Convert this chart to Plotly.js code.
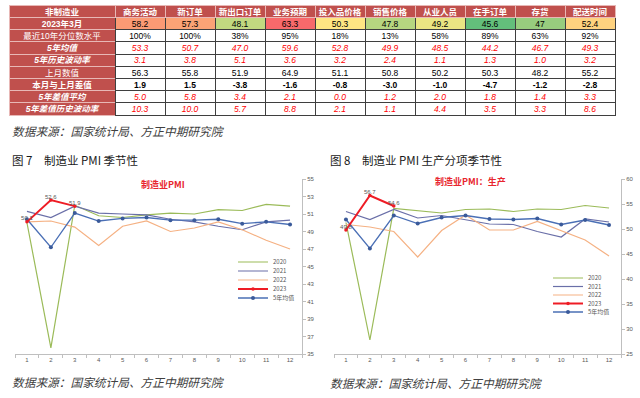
<!DOCTYPE html>
<html><head><meta charset="utf-8">
<script src="https://cdn.plot.ly/plotly-3.0.1.min.js"></script>
<style>html,body{margin:0;padding:0;background:#fff}#chart{width:640px;height:398px}</style>
</head><body><div id="chart"></div>
<script>
// ---------- table data ----------
const tableHeader = ['非制造业','商务活动','新订单','新出口订单','业务预期','投入品价格','销售价格','从业人员','在手订单','存货','配送时间'];
const rowLabels = ['2023年3月','最近10年分位数水平','5年均值','5年历史波动率','上月数值','本月与上月差值','5年差值平均','5年差值历史波动率'];
const currentValues = [58.2,57.3,48.1,63.3,50.3,47.8,49.2,45.6,47,52.4];
const percentile10y = [100,100,38,95,18,13,58,89,63,92];
const avg5y = [53.3,50.7,47.0,59.6,52.8,49.9,48.5,44.2,46.7,49.3];
const vol5y = [3.1,3.8,5.1,3.6,3.2,2.4,1.1,1.3,1.0,3.2];
const prevMonth = [56.3,55.8,51.9,64.9,51.1,50.8,50.2,50.3,48.2,55.2];
const momChange = [1.9,1.5,-3.8,-1.6,-0.8,-3.0,-1.0,-4.7,-1.2,-2.8];
const avgChange5y = [5.0,5.8,3.4,2.1,0.0,1.2,2.0,1.8,1.4,3.3];
const volChange5y = [10.3,10.0,5.7,8.8,2.1,1.1,4.4,3.5,3.3,8.6];

// ---------- chart data ----------
const months = [1,2,3,4,5,6,7,8,9,10,11,12];
const monthLabels = ['1','2','3','4','5','6','7','8','9','10','11','12'];
const pmi2020 = [50.0,35.7,52.0,50.8,50.6,50.9,51.1,51.0,51.5,51.4,52.1,51.9];
const pmi2021 = [51.3,50.6,51.9,51.1,51.0,50.9,50.4,50.1,49.6,49.2,50.1,50.3];
const pmi2022 = [50.1,50.2,49.5,47.4,49.6,50.2,49.0,49.4,50.1,49.2,48.0,47.0];
const pmi2023 = [50.1,52.6,51.9];
const pmiAvg5y = [50.4,47.2,51.1,50.2,50.5,50.6,50.3,50.3,50.4,49.9,50.1,49.8];
const prod2020 = [51.3,27.8,54.1,53.7,53.2,53.9,54.0,53.5,54.0,53.9,54.7,54.2];
const prod2021 = [53.5,51.9,53.9,52.2,52.7,51.9,51.0,50.9,49.5,48.4,52.0,51.4];
const prod2022 = [50.9,50.4,49.5,44.4,49.7,52.8,49.8,49.8,51.5,49.6,47.8,44.6];
const prod2023 = [49.8,56.7,54.6];
const prodAvg5y = [51.9,46.1,52.7,51.1,52.3,52.7,52.0,51.9,52.1,50.9,51.8,50.8];

// ---------- styles ----------
const HEAD_RED = '#C0504D';
const TXT_RED = '#FF0000';
const FONT = 'Liberation Sans, Noto Sans CJK SC, sans-serif';
const CJK = 'Noto Sans CJK SC, sans-serif';
const colors = {'2020':'#9BBB59','2021':'#6A6FA8','2022':'#F5B183','2023':'#EE1C25','5年均值':'#4A6FB5'};
const axisGray = '#BFBFBF';
const tickGray = '#595959';

// Excel 3-colour scale (green - yellow - red)
function scaleColor(v, arr){
  const s = arr.slice().sort((a,b)=>a-b);
  const min = s[0], max = s[s.length-1];
  const mid = (s[s.length/2-1] + s[s.length/2]) / 2;
  const G=[99,190,123], Y=[255,235,132], R=[248,105,107];
  let a=Y,b,t;
  if (v >= mid){ b=R; t=(v-mid)/(max-mid); } else { b=G; t=(mid-v)/(mid-min); }
  const c = a.map((x,i)=>Math.round(x+(b[i]-x)*t));
  return 'rgb('+c.join(',')+')';
}

const rowsText = [
  currentValues.map(v=>String(v)),
  percentile10y.map(v=>v+'%'),
  avg5y.map(v=>v.toFixed(1)),
  vol5y.map(v=>v.toFixed(1)),
  prevMonth.map(v=>v.toFixed(1)),
  momChange.map(v=>v.toFixed(1)),
  avgChange5y.map(v=>v.toFixed(1)),
  volChange5y.map(v=>v.toFixed(1))
];
const labelWeight = ['bold','normal','bold','bold','normal','bold','bold','bold'];
const labelStyle  = ['normal','normal','italic','italic','normal','normal','italic','italic'];
const dataWeight  = ['normal','normal','normal','normal','normal','bold','normal','normal'];
const dataStyle   = ['normal','normal','italic','italic','normal','normal','italic','italic'];
const redRows = [false,false,true,true,false,false,true,true];

const cellValues = [rowLabels];
const cellFill = [rowLabels.map(()=>HEAD_RED)];
const cellFont = [rowLabels.map(()=>'#FFFFFF')];
const cellWeight = [labelWeight];
const cellStyle = [labelStyle];
const lineCols = ['#E8B8B6'];
for (let j=0;j<currentValues.length;j++){
  cellValues.push(rowsText.map(r=>r[j]));
  cellFill.push(rowsText.map((r,i)=> i===0 ? scaleColor(currentValues[j], currentValues) : '#FFFFFF'));
  cellFont.push(redRows.map(r=> r ? TXT_RED : '#000000'));
  cellWeight.push(dataWeight);
  cellStyle.push(dataStyle);
  lineCols.push('#3F3F3F');
}
const blankCells = cellValues.map(col=>col.map(()=>''));
const tableX = [9/640, 615/640];
const textLift = 5; // px: moves the cell texts up to the middle of the 12px rows

const traces = [];
// grid: fills and borders
traces.push({
  type:'table', domain:{x:tableX, y:[1-118/398, 1-5.5/398]}, columnwidth:[106,50,50,50,50,50,50,50,50,50,50],
  header:{values:tableHeader.map(()=>''), fill:{color:HEAD_RED}, line:{color:'#E8B8B6', width:1}, height:12},
  cells:{values:blankCells, fill:{color:cellFill}, line:{color:lineCols, width:1}, height:12.2}
});
// texts of the same table
traces.push({
  type:'table', domain:{x:tableX, y:[1-(118-textLift)/398, 1-(5.5-textLift)/398]}, columnwidth:[106,50,50,50,50,50,50,50,50,50,50],
  header:{values:tableHeader, fill:{color:'rgba(0,0,0,0)'}, line:{color:'rgba(0,0,0,0)', width:0},
    font:{family:FONT, size:8.5, color:'#FFFFFF', weight:'bold'}, align:'center', height:12},
  cells:{values:cellValues, fill:{color:'rgba(0,0,0,0)'}, line:{color:'rgba(0,0,0,0)', width:0},
    font:{family:FONT, size:8.5, color:cellFont, weight:cellWeight, style:cellStyle}, align:'center', height:12.2}
});

const legendPos = {};
function addChart(xa, ya, legendIds, legendX, legendYs, s2020, s2021, s2022, s2023, sAvg){
  const data = {'2020':s2020,'2021':s2021,'2022':s2022};
  ['2020','2021','2022'].forEach((n,k)=>{
    traces.push({type:'scatter', mode:'lines', name:n, x:months, y:data[n], xaxis:xa, yaxis:ya, legend:legendIds[k],
      line:{color:colors[n], width:1.2}, hoverinfo:'skip'});
  });
  traces.push({type:'scatter', mode:'lines+markers', name:'5年均值', x:months, y:sAvg, xaxis:xa, yaxis:ya, legend:legendIds[4],
    line:{color:colors['5年均值'], width:1.3}, marker:{size:4, color:'#3A5A9A'}, hoverinfo:'skip'});
  traces.push({type:'scatter', mode:'lines+markers', name:'2023', x:months.slice(0,s2023.length), y:s2023, xaxis:xa, yaxis:ya, legend:legendIds[3],
    line:{color:colors['2023'], width:2}, marker:{size:3.5, color:colors['2023']}, hoverinfo:'skip'});
  traces.push({type:'scatter', mode:'text', x:months.slice(0,s2023.length), y:s2023, xaxis:xa, yaxis:ya, showlegend:false,
    text:s2023.map(v=>v.toFixed(1)), textposition:'top center', textfont:{family:FONT, size:6, color:tickGray}, hoverinfo:'skip'});
  legendIds.forEach((id,k)=>{
    legendPos[id] = {x:legendX/640, y:1-legendYs[k]/398, xanchor:'left', yanchor:'middle', bgcolor:'rgba(0,0,0,0)',
      borderwidth:0, font:{family:CJK, size:6, color:tickGray}, itemwidth:30};
  });
}
addChart('x','y',['legend','legend2','legend3','legend4','legend5'], 233, [262,271,280,289,298],
  pmi2020, pmi2021, pmi2022, pmi2023, pmiAvg5y);
addChart('x2','y2',['legend6','legend7','legend8','legend9','legend10'], 548, [278,286.5,295,303.5,312],
  prod2020, prod2021, prod2022, prod2023, prodAvg5y);

function xAxis(domain, anchor){
  return {domain:domain, anchor:anchor, range:[0.5,12.5], tickmode:'array', tickvals:months, ticktext:monthLabels, ticks:'',
    showline:true, linecolor:axisGray, linewidth:1, showgrid:false, zeroline:false, fixedrange:true,
    tickfont:{family:FONT, size:6, color:tickGray},
    minor:{tick0:0.5, dtick:1, ticks:'outside', ticklen:3, tickcolor:axisGray, showgrid:false}};
}
function yAxis(domain, anchor, range, dtick){
  return {domain:domain, anchor:anchor, side:'right', range:range, tick0:range[0], dtick:dtick, ticks:'outside', ticklen:3,
    tickcolor:axisGray, showline:true, linecolor:axisGray, linewidth:1, showgrid:false, zeroline:false, fixedrange:true,
    tickfont:{family:FONT, size:6, color:tickGray}};
}
const yDom = [1-354/398, 1-179/398];
function ann(text, px, py, font, extra){
  return Object.assign({text:text, xref:'paper', yref:'paper', x:px/640, y:1-py/398, xanchor:'left', yanchor:'middle',
    showarrow:false, font:font}, extra||{});
}
const srcFont = {family:CJK, size:11.7, color:'#404040', style:'italic'};
const figFont = {family:CJK, size:11.5, color:'#1A1A1A'};
const ttlFont = {family:CJK, size:9, color:'#E8262E', weight:'bold'};
const layout = Object.assign({
  width:640, height:398, margin:{l:0,r:0,t:0,b:0}, paper_bgcolor:'#FFFFFF', plot_bgcolor:'rgba(0,0,0,0)',
  font:{family:FONT, size:6, color:tickGray},
  xaxis:xAxis([15/640, 302/640],'y'),
  yaxis:yAxis(yDom,'x',[35,55],2),
  xaxis2:xAxis([334/640, 621/640],'y2'),
  yaxis2:yAxis(yDom,'x2',[25,60],5),
  annotations:[
    ann('数据来源：国家统计局、方正中期研究院', 10, 131, srcFont),
    ann('图 7　制造业 PMI 季节性', 10, 160, figFont),
    ann('图 8　制造业 PMI 生产分项季节性', 328, 160, figFont),
    ann('制造业PMI', 163, 184, ttlFont, {xanchor:'center'}),
    ann('制造业PMI：生产', 470, 181, ttlFont, {xanchor:'center'}),
    ann('数据来源：国家统计局、方正中期研究院', 10, 381, srcFont),
    ann('数据来源：国家统计局、方正中期研究院', 328, 382, srcFont)
  ]
}, legendPos);
Plotly.newPlot('chart', traces, layout, {displayModeBar:false, staticPlot:true});
</script></body></html>
